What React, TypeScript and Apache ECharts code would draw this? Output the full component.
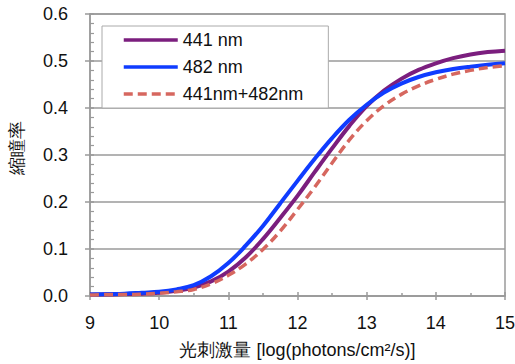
import React, { useEffect, useRef } from "react";
import * as echarts from "echarts";

const xValues = [9, 9.25, 9.5, 9.75, 10, 10.25, 10.5, 10.75, 11, 11.25, 11.5, 11.75, 12, 12.25, 12.5, 12.75, 13, 13.25, 13.5, 13.75, 14, 14.25, 14.5, 14.75, 15];
const series441 = [0.003, 0.003, 0.004, 0.005, 0.007, 0.011, 0.018, 0.031, 0.052, 0.082, 0.121, 0.166, 0.213, 0.264, 0.314, 0.362, 0.404, 0.437, 0.462, 0.481, 0.495, 0.506, 0.514, 0.519, 0.522];
const series482 = [0.003, 0.004, 0.005, 0.007, 0.009, 0.014, 0.023, 0.042, 0.07, 0.107, 0.149, 0.197, 0.245, 0.292, 0.336, 0.375, 0.407, 0.433, 0.452, 0.466, 0.476, 0.483, 0.488, 0.492, 0.495];
const seriesBoth = [0.002, 0.003, 0.003, 0.004, 0.006, 0.009, 0.014, 0.026, 0.044, 0.068, 0.099, 0.138, 0.184, 0.232, 0.283, 0.332, 0.373, 0.405, 0.429, 0.447, 0.461, 0.472, 0.48, 0.486, 0.49];
const seriesNames = ["441 nm", "482 nm", "441nm+482nm"];
const xAxisName = "光刺激量 [log(photons/cm²/s)]";
const yAxisName = "縮瞳率";

const GRAY = "#9a9a9a";
const FONT = "Liberation Sans, Arial, sans-serif";

export default function App() {
  const ref = useRef<HTMLDivElement>(null);
  useEffect(() => {
    if (!ref.current) return;
    const chart = echarts.init(ref.current, undefined, { renderer: "svg" });
    const toPairs = (ys: number[]) => xValues.map((x, i) => [x, ys[i]]);
    chart.setOption({
      animation: false,
      backgroundColor: "#ffffff",
      textStyle: { fontFamily: FONT },
      grid: {
        left: 90,
        right: 10,
        top: 14,
        bottom: 68,
        outerBoundsMode: "none",
        containLabel: false,
        show: true,
        borderColor: GRAY,
        borderWidth: 1.5,
        backgroundColor: "transparent",
      },
      legend: {
        orient: "vertical",
        left: 102,
        top: 26,
        padding: [4, 25, 4, 20],
        itemWidth: 54,
        itemHeight: 14,
        itemGap: 7,
        backgroundColor: "#ffffff",
        borderColor: "#aaaaaa",
        borderWidth: 1,
        itemStyle: { opacity: 0 },
        lineStyle: { width: 3.5 },
        textStyle: { fontSize: 18, lineHeight: 20, color: "#111", fontFamily: FONT },
        data: seriesNames,
      },
      xAxis: [
        {
          type: "value",
          min: 9,
          max: 15,
          interval: 1,
          name: xAxisName,
          nameLocation: "middle",
          nameGap: 45,
          nameTextStyle: { fontSize: 18, color: "#111", fontFamily: FONT },
          axisLine: { lineStyle: { color: GRAY, width: 1.5 } },
          axisTick: { show: true, inside: true, length: 4, lineStyle: { color: GRAY, width: 1.5 } },
          minorTick: { show: true, splitNumber: 2, length: 3, lineStyle: { color: GRAY, width: 1.5 } },
          axisLabel: { fontSize: 18, color: "#111", margin: 18, fontFamily: FONT },
          splitLine: { show: false },
        },
        {
          type: "value",
          min: 9,
          max: 15,
          interval: 1,
          position: "bottom",
          axisLine: { show: false },
          axisTick: { show: true, inside: false, length: 4, lineStyle: { color: GRAY, width: 1.5 } },
          axisLabel: { show: false },
          splitLine: { show: false },
        },
      ],
      yAxis: [
        {
          type: "value",
          min: 0,
          max: 0.6,
          interval: 0.1,
          name: yAxisName,
          nameLocation: "middle",
          nameGap: 64,
          nameRotate: 90,
          nameTextStyle: { fontSize: 18, color: "#111", fontFamily: FONT, padding: [0, 0, 0, 14] },
          axisLine: { lineStyle: { color: GRAY, width: 1.5 } },
          axisTick: { show: true, inside: true, length: 4, lineStyle: { color: GRAY, width: 1.5 } },
          minorTick: { show: true, splitNumber: 5, length: 4, lineStyle: { color: GRAY, width: 1.2 } },
          axisLabel: { fontSize: 18, color: "#111", margin: 22, fontFamily: FONT, formatter: (v: number) => v.toFixed(1) },
          splitLine: { show: true, lineStyle: { color: GRAY, width: 1.5 } },
        },
        {
          type: "value",
          min: 0,
          max: 0.6,
          interval: 0.1,
          position: "left",
          axisLine: { show: false },
          axisTick: { show: true, inside: false, length: 5, lineStyle: { color: GRAY, width: 1.5 } },
          axisLabel: { show: false },
          splitLine: { show: false },
        },
      ],
      series: [
        {
          name: seriesNames[0],
          type: "line",
          data: toPairs(series441),
          smooth: 0.4,
          symbol: "none",
          lineStyle: { color: "#7B1E7E", width: 4 },
          itemStyle: { color: "#7B1E7E" },
        },
        {
          name: seriesNames[1],
          type: "line",
          data: toPairs(series482),
          smooth: 0.4,
          symbol: "none",
          lineStyle: { color: "#0F3CFF", width: 4 },
          itemStyle: { color: "#0F3CFF" },
        },
        {
          name: seriesNames[2],
          type: "line",
          data: toPairs(seriesBoth),
          smooth: 0.4,
          symbol: "none",
          lineStyle: { color: "#D6675F", width: 3.5, type: [9, 5] },
          itemStyle: { color: "#D6675F" },
        },
      ],
    });
    return () => chart.dispose();
  }, []);
  return <div ref={ref} style={{ position: "fixed", left: 0, top: 0, width: 515, height: 364 }} />;
}
